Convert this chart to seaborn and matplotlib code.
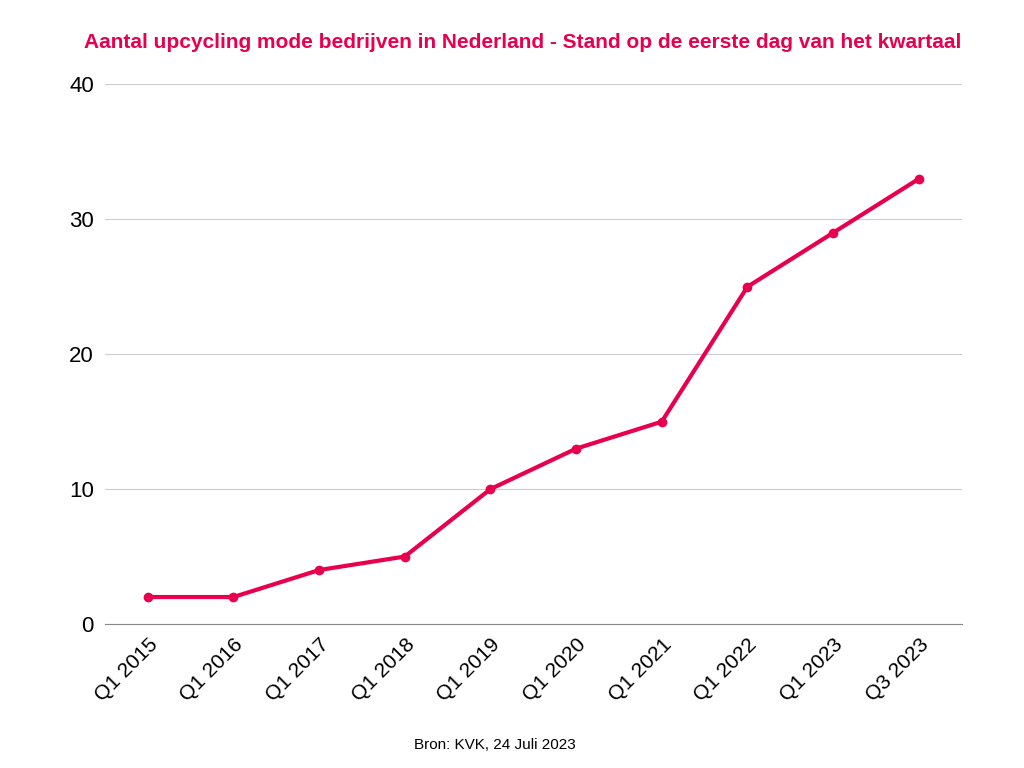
import matplotlib
matplotlib.use("Agg")
import matplotlib.pyplot as plt
import seaborn as sns
import pandas as pd

quarters = ["Q1 2015", "Q1 2016", "Q1 2017", "Q1 2018", "Q1 2019",
            "Q1 2020", "Q1 2021", "Q1 2022", "Q1 2023", "Q3 2023"]
companies = [2, 2, 4, 5, 10, 13, 15, 25, 29, 33]
yticks = [0, 10, 20, 30, 40]

df = pd.DataFrame({"q": range(len(quarters)), "n": companies})
red = "#E8004F"
plt.rcParams["font.family"] = "Liberation Sans"

fig = plt.figure(figsize=(10.24, 7.68), dpi=100)
ax = fig.add_axes([0.1025, 0.1875, 0.8365, 0.7025])
sns.lineplot(data=df, x="q", y="n", color=red, linewidth=3, marker="o",
             markersize=7, markeredgewidth=0, ax=ax)
ax.set_xlim(-0.5, len(quarters) - 0.5)
ax.set_ylim(0, 40)
ax.set_yticks(yticks)
ax.set_yticklabels([str(v) for v in yticks], fontsize=16)
ax.set_xticks(range(len(quarters)))
ax.set_xticklabels(quarters, rotation=45, ha="right", rotation_mode="anchor", fontsize=15)
ax.grid(axis="y", color="#cccccc", linewidth=0.8)
ax.set_axisbelow(True)
for s in ["left", "right", "top"]:
    ax.spines[s].set_visible(False)
ax.spines["bottom"].set_color("#888888")
ax.tick_params(length=0, pad=8)
ax.set_xlabel("")
ax.set_ylabel("")
fig.text(0.51, 0.945, "Aantal upcycling mode bedrijven in Nederland - Stand op de eerste dag van het kwartaal",
         ha="center", va="center", color=red, fontsize=15, fontweight="bold")
fig.text(0.483, 0.03, "Bron: KVK, 24 Juli 2023", ha="center", va="center", fontsize=11)
fig.savefig("out.png", dpi=100)
